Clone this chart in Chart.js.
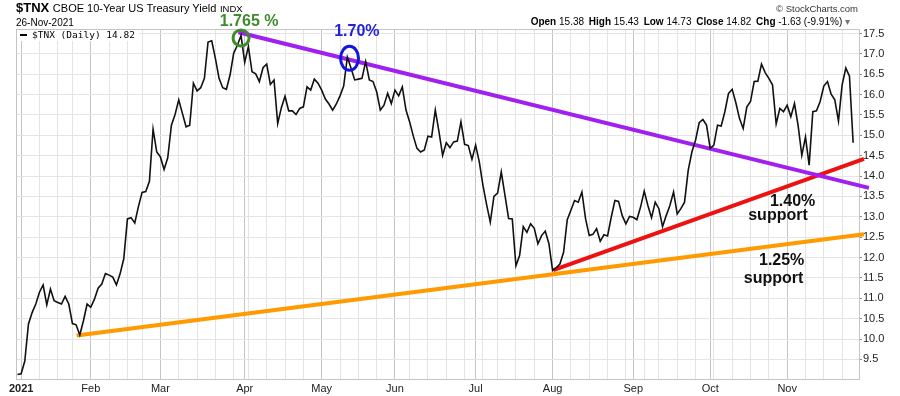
<!DOCTYPE html>
<html>
<head>
<meta charset="utf-8">
<script src="https://cdn.jsdelivr.net/npm/chart.js"></script>
<style>
body { margin: 0; background: #fff; }
#wrap { position: relative; width: 900px; height: 396px; font-family: "Liberation Sans", Arial, sans-serif; color: #000; }
#wrap canvas { position: absolute; left: 0; top: 0; }
.t { position: absolute; white-space: nowrap; line-height: 1; }
.ohlc b { font-size: 10px; margin-left: 2px; }
</style>
</head>
<body>
<div id="wrap">
  <canvas id="graphCanvas" width="900" height="396"></canvas>
  <div class="t" style="left:16px;top:1.3px;font-size:13px"><b>$TNX</b> <span style="font-size:11px">CBOE 10-Year US Treasury Yield</span> <span style="font-size:9.5px">INDX</span></div>
  <div class="t" style="left:16px;top:17.5px;font-size:10px">26-Nov-2021</div>
  <div class="t" style="right:42px;top:4px;font-size:9.5px;color:#333">&copy; StockCharts.com</div>
  <div class="t ohlc" style="right:50px;top:17.2px;font-size:10px"><b>Open</b> 15.38 <b>High</b> 15.43 <b>Low</b> 14.73 <b>Close</b> 14.82 <b>Chg</b> -1.63 (-9.91%) <span style="color:#777">&#9662;</span></div>
  <div style="position:absolute;left:17px;top:30px;width:122px;height:11px;background:#fff"></div>
  <div style="position:absolute;left:20px;top:33.5px;width:7px;height:2px;background:#000"></div>
  <div class="t" style="left:32px;top:30.3px;font-family:'DejaVu Sans Mono',monospace;font-size:9.5px">$TNX (Daily) 14.82</div>
</div>
<script>
// daily closes of $TNX (yield x 10), one array per month
var dec2020 = [9.13];
var jan = [9.15, 9.46, 10.37, 10.65, 10.86, 11.15, 11.33, 10.84, 11.23, 10.94, 10.90, 10.86, 11.05, 10.86, 10.38, 10.35, 10.10, 10.45, 10.86];
var feb = [10.78, 10.98, 11.25, 11.35, 11.61, 11.57, 11.52, 11.33, 11.60, 11.97, 12.95, 12.98, 12.85, 13.25, 13.60, 13.62, 13.87, 15.15, 14.59];
var mar = [14.47, 14.16, 14.45, 15.25, 15.51, 15.87, 15.54, 15.21, 15.25, 16.28, 16.09, 16.17, 16.40, 17.29, 17.32, 16.89, 16.40, 16.17, 16.13, 16.48, 17.02, 17.21, 17.45];
var apr = [16.79, 17.18, 16.56, 16.51, 16.32, 16.66, 16.75, 16.25, 16.36, 15.29, 15.68, 15.96, 15.60, 15.60, 15.51, 15.66, 15.70, 16.19, 16.11, 16.38, 16.28];
var may = [16.11, 15.89, 15.77, 15.62, 15.77, 15.97, 16.21, 16.92, 16.65, 16.36, 16.38, 16.40, 16.81, 16.36, 16.32, 16.07, 15.62, 15.74, 16.03, 15.78];
var jun = [16.11, 15.97, 16.19, 15.62, 15.33, 14.98, 14.68, 14.59, 14.64, 14.98, 14.96, 15.62, 15.09, 14.51, 14.82, 14.70, 14.84, 14.86, 15.33, 14.78, 14.75, 14.41];
var jul = [14.76, 14.35, 13.77, 13.30, 12.87, 13.50, 13.58, 14.10, 13.53, 12.96, 12.95, 11.80, 12.05, 12.76, 12.62, 12.83, 12.72, 12.34, 12.54, 12.65, 12.34];
var aug = [11.68, 11.75, 11.84, 12.13, 12.93, 13.16, 13.40, 13.36, 13.61, 12.95, 12.54, 12.57, 12.71, 12.40, 12.56, 12.53, 12.99, 13.40, 13.38, 13.03, 12.83, 13.01];
var sep = [12.99, 12.93, 13.24, 13.63, 13.28, 12.98, 13.36, 13.20, 12.76, 13.03, 13.28, 13.61, 13.07, 13.20, 13.36, 14.14, 14.59, 14.88, 15.31, 15.39, 15.25];
var oct = [14.68, 14.76, 15.25, 15.23, 15.58, 16.03, 16.13, 15.80, 15.41, 15.17, 15.70, 15.83, 16.32, 16.33, 16.75, 16.54, 16.40, 16.24, 15.28, 15.66, 15.58];
var nov = [15.74, 15.46, 15.78, 15.23, 14.51, 14.96, 14.27, 15.58, 15.60, 15.83, 16.21, 16.32, 16.01, 15.87, 15.35, 16.24, 16.65, 16.45, 14.82];

// trend lines: [day index, yield x 10]
var resistance = [[60.25, 17.53], [232.3, 13.71]];
var support140 = [[146.2, 11.69], [230.96, 14.42]];
var support125 = [[16.15, 10.09], [230.96, 12.57]];

var yTicks = [9.5, 10.0, 10.5, 11.0, 11.5, 12.0, 12.5, 13.0, 13.5, 14.0, 14.5, 15.0, 15.5, 16.0, 16.5, 17.0, 17.5];
var monthNames = ['Jan', 'Feb', 'Mar', 'Apr', 'May', 'Jun', 'Jul', 'Aug', 'Sep', 'Oct', 'Nov', 'Dec'];
var holidays = ['2021-01-01', '2021-01-18', '2021-02-15', '2021-04-02', '2021-05-31', '2021-07-05', '2021-09-06', '2021-11-25'];

var closes = [].concat(dec2020, jan, feb, mar, apr, may, jun, jul, aug, sep, oct, nov);

function tradingDays(from, to)
{
    var out = [];
    var end = new Date(to + 'T00:00:00Z');
    for (var d = new Date(from + 'T00:00:00Z'); d <= end; d.setUTCDate(d.getUTCDate() + 1)) {
        var w = d.getUTCDay();
        if (w === 0 || w === 6 || holidays.indexOf(d.toISOString().slice(0, 10)) >= 0) continue;
        out.push(new Date(d));
    }
    return out;
}

var days = tradingDays('2020-12-31', '2021-11-26');
var xTicks = [];
var monthLabels = {};
var yearIdx = -1;
for (var i = 1; i < days.length; i++) {
    var d = days[i], p = days[i - 1];
    var newWeek = d.getUTCDay() <= p.getUTCDay() || d - p > 3 * 864e5;
    var newMonth = d.getUTCMonth() !== p.getUTCMonth();
    if (newWeek || newMonth) xTicks.push(i);
    if (newMonth) {
        if (d.getUTCMonth() === 0) { monthLabels[i] = String(d.getUTCFullYear()); yearIdx = i; }
        else monthLabels[i] = monthNames[d.getUTCMonth()];
    }
}

// circles and notes, placed in data units
var rings = [
    { x: 61.0, y: 17.39, rx: 8, ry: 8, color: '#3f8a2b' },
    { x: 90.6, y: 16.89, rx: 9, ry: 12, color: '#1414dc' }
];
var notes = [
    { text: '1.765 %', x: 63.2, y: 17.69, color: '#3f8a2b' },
    { text: '1.70%', x: 92.6, y: 17.44, color: '#2222dd' },
    { text: '1.40%', x: 211.5, y: 13.26, color: '#111' },
    { text: 'support', x: 207.5, y: 12.93, color: '#111' },
    { text: '1.25%', x: 208.5, y: 11.83, color: '#111' },
    { text: 'support', x: 206.3, y: 11.38, color: '#111' }
];

var markup = {
    id: 'markup',
    beforeDatasetsDraw: function (chart) {
        var a = chart.chartArea, ctx = chart.ctx;
        ctx.save();
        ctx.strokeStyle = '#c4c4c4';
        ctx.lineWidth = 1;
        ctx.strokeRect(a.left + 0.5, a.top + 0.5, a.right - a.left, a.bottom - a.top);
        ctx.restore();
    },
    afterDatasetsDraw: function (chart) {
        var sx = chart.scales.x, sy = chart.scales.y, ctx = chart.ctx;
        ctx.save();
        ctx.lineWidth = 3;
        rings.forEach(function (r) {
            ctx.strokeStyle = r.color;
            ctx.beginPath();
            ctx.ellipse(sx.getPixelForValue(r.x), sy.getPixelForValue(r.y), r.rx, r.ry, 0, 0, Math.PI * 2);
            ctx.stroke();
        });
        ctx.font = 'bold 16px "Liberation Sans", Arial, sans-serif';
        ctx.textAlign = 'center';
        ctx.textBaseline = 'alphabetic';
        notes.forEach(function (n) {
            ctx.fillStyle = n.color;
            ctx.fillText(n.text, sx.getPixelForValue(n.x), sy.getPixelForValue(n.y));
        });
        ctx.restore();
    }
};

function pts(arr)
{
    return arr.map(function (p) { return { x: p[0], y: p[1] }; });
}

var fam = '"Liberation Sans", Arial, sans-serif';

new Chart(document.getElementById('graphCanvas'), {
    type: 'line',
    data: {
        datasets: [
            {
                label: '$TNX (Daily)',
                data: closes.map(function (v, i) { return { x: i, y: v }; }),
                borderColor: '#111',
                borderWidth: 1.6,
                pointRadius: 0,
                tension: 0
            },
            { data: pts(resistance), borderColor: '#a020f0', borderWidth: 4, pointRadius: 0, clip: false },
            { data: pts(support140), borderColor: '#ee1111', borderWidth: 4, pointRadius: 0, clip: false },
            { data: pts(support125), borderColor: '#ff9a00', borderWidth: 4, pointRadius: 0, clip: false }
        ]
    },
    options: {
        responsive: false,
        animation: false,
        devicePixelRatio: 1,
        layout: { padding: { left: 16, top: 29, right: 0, bottom: 0 } },
        plugins: { legend: { display: false }, tooltip: { enabled: false } },
        scales: {
            x: {
                type: 'linear',
                min: -0.4,
                max: 229.6,
                afterBuildTicks: function (s) { s.ticks = xTicks.map(function (v) { return { value: v }; }); },
                afterFit: function (s) { s.height = 17; },
                ticks: {
                    autoSkip: false,
                    maxRotation: 0,
                    padding: 3,
                    color: '#222',
                    font: function (c) {
                        return { family: fam, size: 11, weight: (c.tick && c.tick.value === yearIdx) ? 'bold' : 'normal' };
                    },
                    callback: function (v) { return monthLabels[v] || ''; }
                },
                grid: {
                    drawTicks: false,
                    color: function (c) { return (c.tick && monthLabels[c.tick.value]) ? '#c4c4c4' : '#e4e4e4'; }
                },
                border: { color: '#a8a8a8' }
            },
            y: {
                position: 'right',
                min: 9.02,
                max: 17.61,
                afterBuildTicks: function (s) { s.ticks = yTicks.map(function (v) { return { value: v }; }); },
                afterFit: function (s) { s.width = 41; },
                ticks: {
                    padding: 1,
                    color: '#222',
                    font: { family: fam, size: 11 },
                    callback: function (v) { return v.toFixed(1); }
                },
                grid: { color: '#e4e4e4', tickLength: 3, tickColor: '#888' },
                border: { color: '#a8a8a8' }
            }
        }
    },
    plugins: [markup]
});
</script>
</body>
</html>
